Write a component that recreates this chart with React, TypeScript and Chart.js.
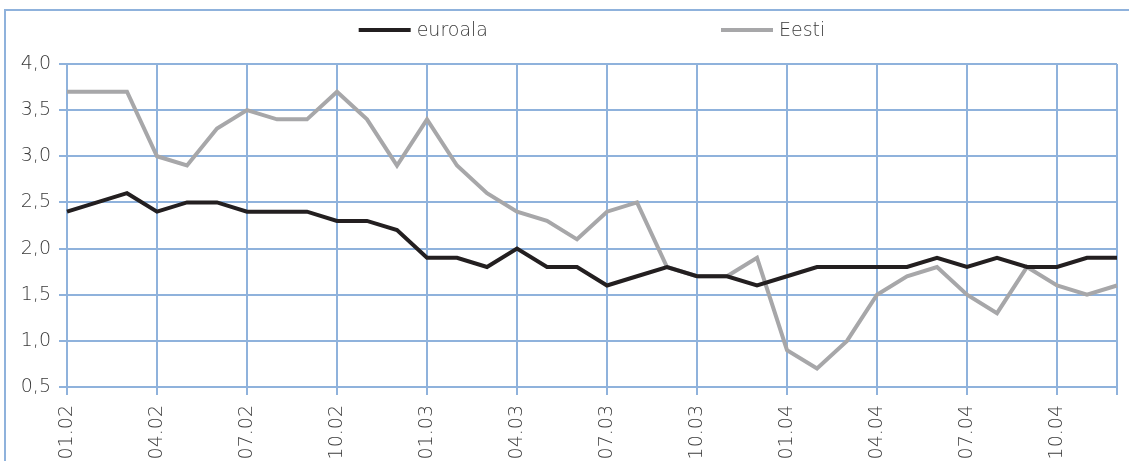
import React, { useEffect, useRef } from "react";
import { Chart, registerables } from "chart.js";

Chart.register(...registerables);

const months: string[] = [
  "01.02", "02.02", "03.02", "04.02", "05.02", "06.02", "07.02", "08.02", "09.02", "10.02", "11.02", "12.02",
  "01.03", "02.03", "03.03", "04.03", "05.03", "06.03", "07.03", "08.03", "09.03", "10.03", "11.03", "12.03",
  "01.04", "02.04", "03.04", "04.04", "05.04", "06.04", "07.04", "08.04", "09.04", "10.04", "11.04", "12.04",
];

const euroala: number[] = [
  2.4, 2.5, 2.6, 2.4, 2.5, 2.5, 2.4, 2.4, 2.4, 2.3, 2.3, 2.2,
  1.9, 1.9, 1.8, 2.0, 1.8, 1.8, 1.6, 1.7, 1.8, 1.7, 1.7, 1.6,
  1.7, 1.8, 1.8, 1.8, 1.8, 1.9, 1.8, 1.9, 1.8, 1.8, 1.9, 1.9,
];

const eesti: number[] = [
  3.7, 3.7, 3.7, 3.0, 2.9, 3.3, 3.5, 3.4, 3.4, 3.7, 3.4, 2.9,
  3.4, 2.9, 2.6, 2.4, 2.3, 2.1, 2.4, 2.5, 1.8, 1.7, 1.7, 1.9,
  0.9, 0.7, 1.0, 1.5, 1.7, 1.8, 1.5, 1.3, 1.8, 1.6, 1.5, 1.6,
];

const seriesNames: string[] = ["euroala", "Eesti"];
const seriesColors: string[] = ["#231F20", "#A7A7A9"];

const GRID = "#8FB2DC";
const FONT = "'DejaVu Sans', sans-serif";
const TEXT = "#3A3A3A";
const CANVAS_W = 1129;
const CANVAS_H = 470;

const legendPlugin = {
  id: "customLegend",
  afterDraw(chart: any) {
    const ctx = chart.ctx;
    const area = chart.chartArea;
    ctx.save();
    ctx.font = `200 19px ${FONT}`;
    const sample = 52;
    const gapText = 6;
    const gapItems = 233;
    const items = chart.data.datasets.map((d: any) => ({
      label: d.label,
      color: d.borderColor,
      w: sample + gapText + ctx.measureText(d.label).width,
    }));
    const total = items.reduce((s: number, it: any) => s + it.w, 0) + gapItems * (items.length - 1);
    let x = (area.left + area.right) / 2 - total / 2;
    const y = 30;
    items.forEach((it: any) => {
      ctx.strokeStyle = it.color;
      ctx.lineWidth = 4;
      ctx.beginPath();
      ctx.moveTo(x, y);
      ctx.lineTo(x + sample, y);
      ctx.stroke();
      ctx.fillStyle = TEXT;
      ctx.textBaseline = "middle";
      ctx.textAlign = "left";
      ctx.fillText(it.label, x + sample + gapText, y + 1);
      x += it.w + gapItems;
    });
    ctx.restore();
  },
};

export default function App() {
  const ref = useRef<HTMLCanvasElement | null>(null);

  useEffect(() => {
    if (!ref.current) return;
    const lastIdx = months.length - 1;
    const chart = new Chart(ref.current, {
      type: "line",
      data: {
        labels: months,
        datasets: [
          {
            label: seriesNames[0],
            data: euroala,
            borderColor: seriesColors[0],
            backgroundColor: seriesColors[0],
            borderWidth: 4,
            pointRadius: 0,
            tension: 0,
          },
          {
            label: seriesNames[1],
            data: eesti,
            borderColor: seriesColors[1],
            backgroundColor: seriesColors[1],
            borderWidth: 4,
            pointRadius: 0,
            tension: 0,
          },
        ],
      },
      options: {
        animation: false,
        responsive: false,
        maintainAspectRatio: false,
        layout: { padding: { top: 64, right: 12, left: 0, bottom: 0 } },
        plugins: {
          legend: { display: false },
          tooltip: { enabled: false },
          title: { display: false },
        },
        scales: {
          x: {
            type: "category",
            offset: false,
            grid: {
              color: (c: any) => (c.index % 3 === 0 || c.index === lastIdx ? GRID : "rgba(0,0,0,0)"),
              lineWidth: 2,
              tickLength: 8,
              drawTicks: true,
            },
            border: { color: GRID, width: 2 },
            ticks: {
              autoSkip: false,
              maxRotation: 90,
              minRotation: 90,
              padding: 10,
              color: TEXT,
              font: { family: FONT, size: 19, weight: "200" as any },
              callback: (_v: any, i: number) => (i % 3 === 0 ? months[i] : ""),
            },
            afterFit: (s: any) => {
              s.height = CANVAS_H - 387;
              s.paddingLeft = 0;
              s.paddingRight = 0;
            },
          },
          y: {
            min: 0.5,
            max: 4.0,
            grid: { color: GRID, lineWidth: 2, tickLength: 8 },
            border: { color: GRID, width: 2 },
            ticks: {
              stepSize: 0.5,
              padding: 8,
              color: TEXT,
              font: { family: FONT, size: 19, weight: "200" as any },
              callback: (v: any) => Number(v).toFixed(1).replace(".", ","),
            },
            afterFit: (s: any) => {
              s.width = 67;
            },
          },
        },
      },
      plugins: [legendPlugin],
    });
    return () => chart.destroy();
  }, []);

  return (
    <div style={{ position: "fixed", left: 0, top: 0, width: CANVAS_W, height: 461, overflow: "hidden", background: "#fff" }}>
      <div
        style={{
          position: "absolute",
          left: 4,
          top: 9,
          width: 1300,
          height: 700,
          border: `2px solid ${GRID}`,
          boxSizing: "border-box",
        }}
      />
      <canvas
        ref={ref}
        width={CANVAS_W}
        height={CANVAS_H}
        style={{ position: "absolute", left: 0, top: 0, width: CANVAS_W, height: CANVAS_H }}
      />
    </div>
  );
}
